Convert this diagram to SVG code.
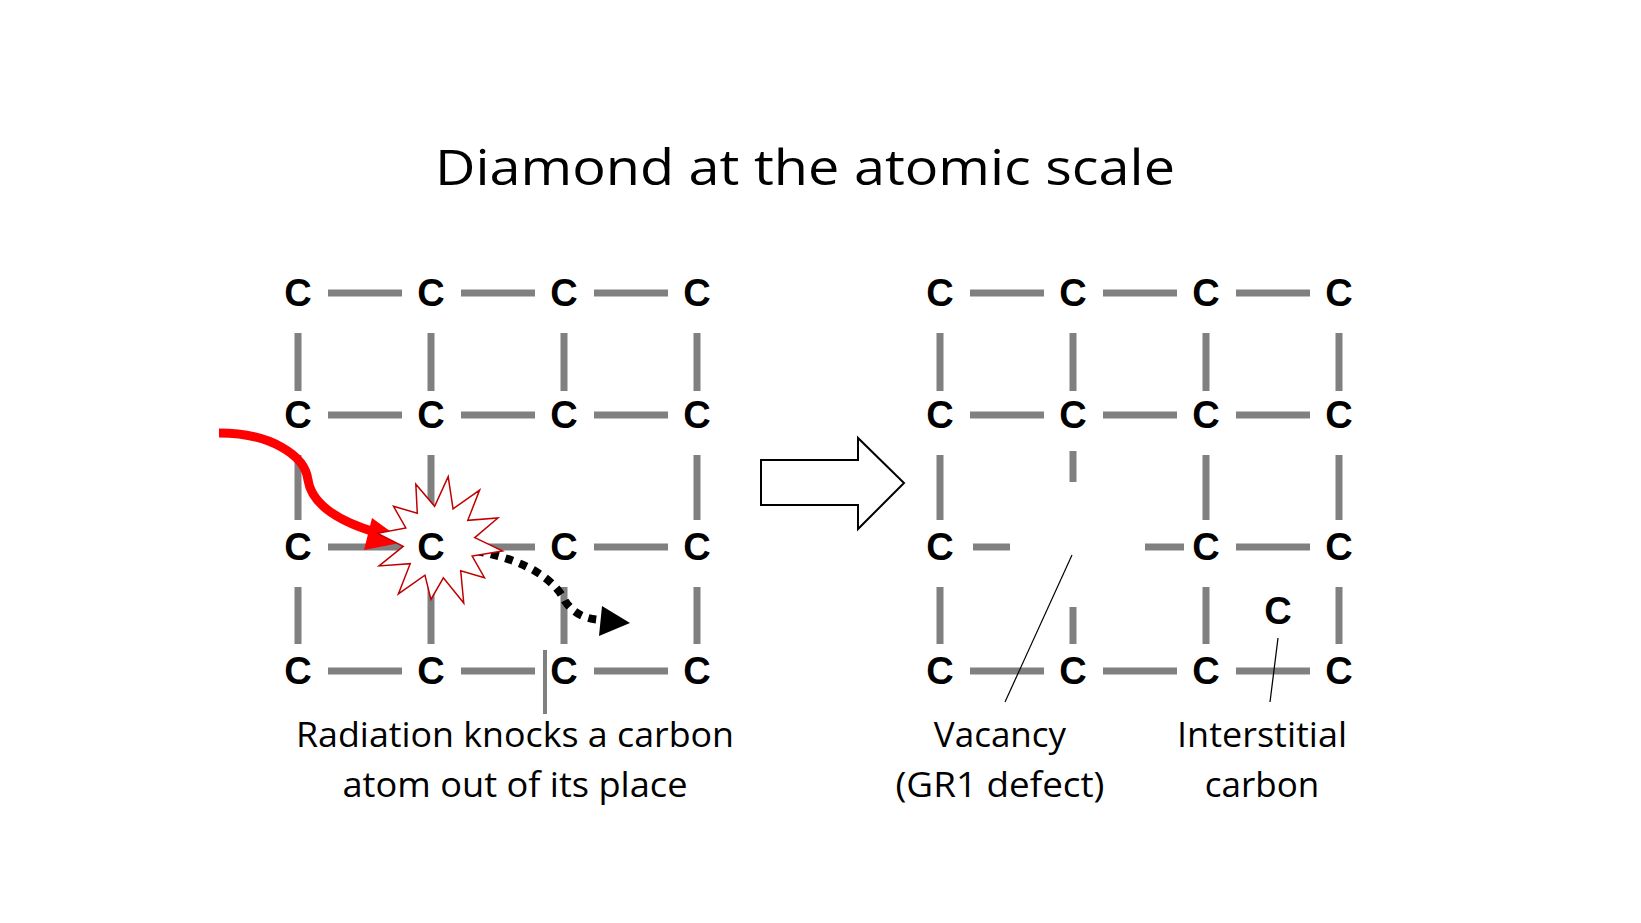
<svg xmlns="http://www.w3.org/2000/svg" width="1641" height="923" viewBox="0 0 1641 923">
<style>
.c{font-family:"Liberation Sans",Arial,sans-serif;font-weight:bold;font-size:38px;text-anchor:middle;fill:#000}
.b{stroke:#808080;stroke-width:7;fill:none}
.t{font-family:"Open Sans","Liberation Sans",sans-serif;font-size:35px;text-anchor:middle;fill:#000}
</style>
<rect width="1641" height="923" fill="#fff"/>
<text x="805" y="185" font-family="Open Sans, Liberation Sans, sans-serif" font-size="50" text-anchor="middle" textLength="740" lengthAdjust="spacingAndGlyphs">Diamond at the atomic scale</text>
<g id="connectors">
<path class="b" d="M328,293H402M461,293H535M594,293H668 M328,415H402M461,415H535M594,415H668 M328,547H402M461,547H535M594,547H668 M328,671H402M461,671H535M594,671H668
M298,333V391M431,333V391M564,333V391M697,333V391
M298,455V520M431,455V520M697,455V520
M298,587V644M431,587V644M564,587V644M697,587V644"/>
<line x1="545" y1="650" x2="545" y2="714" stroke="#808080" stroke-width="4"/>
<path class="b" d="M970,293H1044M1103,293H1177M1236,293H1310 M970,415H1044M1103,415H1177M1236,415H1310 M970,671H1044M1103,671H1177M1236,671H1310
M973,547H1010M1145,547H1184M1236,547H1310
M940,333V391M1073,333V391M1206,333V391M1339,333V391
M940,455V520M1073,451V482M1206,455V520M1339,455V520
M940,587V644M1073,607V644M1206,587V644M1339,587V644"/>
<line x1="1072" y1="555" x2="1005" y2="702" stroke="#000" stroke-width="1.2"/>
<line x1="1278" y1="638" x2="1270" y2="702" stroke="#000" stroke-width="1.2"/>
<polygon points="761,460 858,460 858,438 904,483 858,529 858,505 761,505" fill="#fff" stroke="#000" stroke-width="2"/>
<path d="M219,433 C270,433 305,455 308,480 C312,505 340,522 378,533" fill="none" stroke="#ff0000" stroke-width="9"/>
<polygon points="405,542 372,518 364,550" fill="#ff0000"/>
<path d="M476,551 C530,561 555,581 565,601 C575,616 590,620 604,620" fill="none" stroke="#000" stroke-width="8" stroke-dasharray="8 7"/>
<polygon points="630,623 602,606 599,636" fill="#000"/>
</g>
<g id="burst">
<polygon transform="translate(439,542) rotate(8)" fill="#fff" stroke="#c00000" stroke-width="1.5" points="64,0 34.8,9.3 50,29 25.5,25.5 33,57 9.3,34.8 0,58 -9.3,34.8 -33,57 -25.5,25.5 -56,32 -34.8,9.3 -62,0 -34.8,-9.3 -50,-29 -25.5,-25.5 -31,-54 -9.3,-34.8 0,-66 9.3,-34.8 33,-57 25.5,-25.5 55,-32 34.8,-9.3"/>
</g>
<g id="left-atoms">
<text class="c" x="298" y="306">C</text><text class="c" x="431" y="306">C</text><text class="c" x="564" y="306">C</text><text class="c" x="697" y="306">C</text>
<text class="c" x="298" y="428">C</text><text class="c" x="431" y="428">C</text><text class="c" x="564" y="428">C</text><text class="c" x="697" y="428">C</text>
<text class="c" x="298" y="560">C</text><text class="c" x="431" y="560">C</text><text class="c" x="564" y="560">C</text><text class="c" x="697" y="560">C</text>
<text class="c" x="298" y="684">C</text><text class="c" x="431" y="684">C</text><text class="c" x="564" y="684">C</text><text class="c" x="697" y="684">C</text>
</g>
<g id="right-atoms">
<text class="c" x="940" y="306">C</text><text class="c" x="1073" y="306">C</text><text class="c" x="1206" y="306">C</text><text class="c" x="1339" y="306">C</text>
<text class="c" x="940" y="428">C</text><text class="c" x="1073" y="428">C</text><text class="c" x="1206" y="428">C</text><text class="c" x="1339" y="428">C</text>
<text class="c" x="940" y="560">C</text><text class="c" x="1206" y="560">C</text><text class="c" x="1339" y="560">C</text>
<text class="c" x="940" y="684">C</text><text class="c" x="1073" y="684">C</text><text class="c" x="1206" y="684">C</text><text class="c" x="1339" y="684">C</text>
<text class="c" x="1278" y="624">C</text>
</g>
<g id="labels">
<text class="t" x="515" y="747" textLength="438" lengthAdjust="spacingAndGlyphs">Radiation knocks a carbon</text>
<text class="t" x="515" y="797" textLength="345" lengthAdjust="spacingAndGlyphs">atom out of its place</text>
<text class="t" x="1000" y="747">Vacancy</text>
<text class="t" x="1000" y="797" textLength="209" lengthAdjust="spacingAndGlyphs">(GR1 defect)</text>
<text class="t" x="1262" y="747" textLength="170" lengthAdjust="spacingAndGlyphs">Interstitial</text>
<text class="t" x="1262" y="797">carbon</text>
</g>
</svg>
